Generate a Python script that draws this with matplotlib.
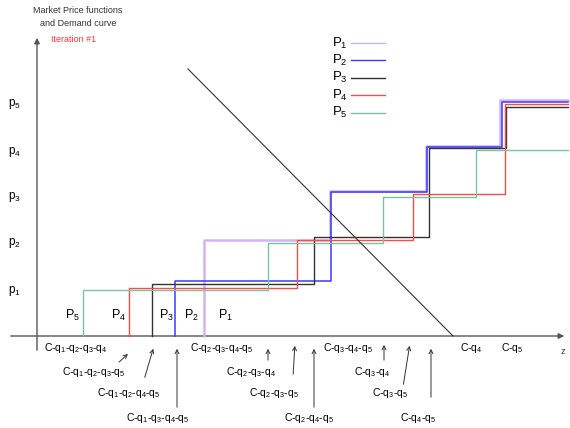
import matplotlib
matplotlib.use("Agg")
import matplotlib.pyplot as plt

plt.rcParams['font.family'] = ['Liberation Sans', 'DejaVu Sans']
plt.rcParams['mathtext.fontset'] = 'custom'
plt.rcParams['mathtext.rm'] = 'Liberation Sans'
plt.rcParams['mathtext.it'] = 'Liberation Sans'

# Datos (en coordenadas del dibujo)
nombres = ['P$_1$', 'P$_2$', 'P$_3$', 'P$_4$', 'P$_5$']
colores = ['#d2b4f4', '#3b3bff', '#333333', '#ff4a4a', '#78c49a']
anchos = [1.8, 1.1, 1.0, 1.0, 1.0]
inicio = [204, 175, 152, 129, 83]
saltos = [[330, 426, 500],
          [331, 427, 502],
          [314, 429, 506],
          [297, 413, 505],
          [268, 383, 476]]
niveles = [[240, 191, 146, 100],
           [281, 192, 147, 102],
           [284, 237, 148, 107],
           [288, 240, 194, 104],
           [290, 243, 197, 150]]
x_fin = 568
y_eje = 336

demanda_x = [188, 453]
demanda_y = [69, 336]

etiq_p_y = ['p$_5$', 'p$_4$', 'p$_3$', 'p$_2$', 'p$_1$']
pos_p_y = [104, 152, 197, 243, 291]

etiq_zona = ['P$_5$', 'P$_4$', 'P$_3$', 'P$_2$', 'P$_1$']
pos_zona = [65, 111, 159, 184, 218]

# etiquetas de abajo: texto, x, y, flecha (x0, y0, x1, y1) o None
abajo = [
    ('C-q$_1$-q$_2$-q$_3$-q$_4$', 44, 348, None),
    ('C-q$_1$-q$_2$-q$_3$-q$_5$', 62, 372, (117, 364, 130, 352)),
    ('C-q$_1$-q$_2$-q$_4$-q$_5$', 97, 393, (144, 380, 154, 346)),
    ('C-q$_1$-q$_3$-q$_4$-q$_5$', 126, 418, (177, 410, 177, 346)),
    ('C-q$_2$-q$_3$-q$_4$-q$_5$', 190, 348, None),
    ('C-q$_2$-q$_3$-q$_4$', 226, 372, (268, 363, 268, 346)),
    ('C-q$_2$-q$_3$-q$_5$', 249, 393, (293, 377, 295, 343)),
    ('C-q$_2$-q$_4$-q$_5$', 284, 418, (314, 410, 314, 346)),
    ('C-q$_3$-q$_4$-q$_5$', 323, 348, None),
    ('C-q$_3$-q$_4$', 354, 372, (384, 363, 384, 342)),
    ('C-q$_3$-q$_5$', 372, 393, (403, 387, 410, 343)),
    ('C-q$_4$-q$_5$', 400, 418, (431, 400, 431, 346)),
    ('C-q$_4$', 460, 348, None),
    ('C-q$_5$', 501, 348, None),
]

fig = plt.figure(figsize=(5.7, 4.28), dpi=100)
ax = fig.add_axes([0, 0, 1, 1])
ax.set_xlim(0, 570)
ax.set_ylim(428, 0)
ax.axis('off')

# Ejes con flecha
ax.annotate('', xy=(567, y_eje), xytext=(8, y_eje),
            arrowprops=dict(arrowstyle='-|>', color='#555555', lw=1, mutation_scale=8))
ax.annotate('', xy=(37, 35), xytext=(37, 353),
            arrowprops=dict(arrowstyle='-|>', color='#555555', lw=1, mutation_scale=8))

# Funciones escalonadas
for i in range(5):
    xs = [inicio[i], inicio[i]] + saltos[i] + [x_fin]
    ys = [y_eje] + niveles[i] + [niveles[i][-1]]
    ax.step(xs, ys, where='post', color=colores[i], lw=anchos[i], zorder=3)

# Curva de demanda
ax.plot(demanda_x, demanda_y, color='#333333', lw=0.8, zorder=4)

# Leyenda
for i in range(5):
    yl = 43 + i * 17.4
    ax.text(332, yl, nombres[i], fontsize=9.5, va='center', ha='left')
    ax.plot([351, 385], [yl, yl], color=colores[i], lw=1.0)

# Titulos
ax.text(78, 10, 'Market Price functions', fontsize=6.5, ha='center', va='center', color='#333333')
ax.text(78, 23, 'and Demand curve', fontsize=6.5, ha='center', va='center', color='#333333')
ax.text(51, 39, 'Iteration #1', fontsize=6.5, ha='left', va='center', color='#ff3333')

for t, y in zip(etiq_p_y, pos_p_y):
    ax.text(8, y, t, fontsize=8.5, ha='left', va='center')

for t, x in zip(etiq_zona, pos_zona):
    ax.text(x, 315, t, fontsize=9, ha='left', va='center')

for t, x, y, fl in abajo:
    ax.text(x, y, t, fontsize=7.5, ha='left', va='center')
    if fl is not None:
        ax.annotate('', xy=(fl[2], fl[3]), xytext=(fl[0], fl[1]),
                    arrowprops=dict(arrowstyle='->', color='#333333', lw=0.7, mutation_scale=7))

ax.text(563, 351, 'z', fontsize=6.5, ha='center', va='center', color='#333333')

fig.savefig('out.png', dpi=100)
